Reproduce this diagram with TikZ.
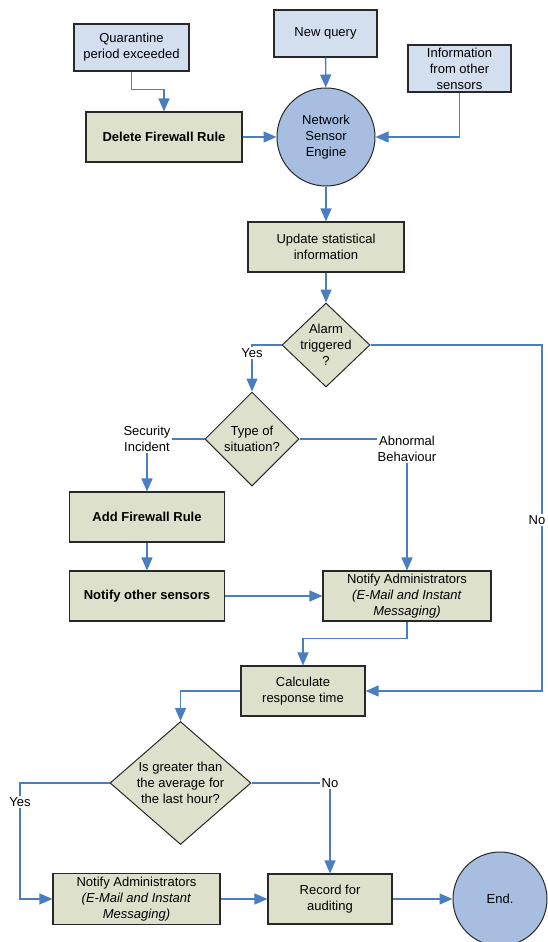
\documentclass[tikz,border=0pt]{standalone}
\usepackage{fontspec}
\setmainfont{Liberation Sans}
\usetikzlibrary{shapes.geometric,arrows.meta}
\definecolor{inblue}{RGB}{211,222,239}
\definecolor{stepgreen}{RGB}{221,224,203}
\definecolor{engblue}{RGB}{167,190,224}
\definecolor{flowblue}{RGB}{74,126,193}
\definecolor{edgegray}{RGB}{40,40,40}

\begin{document}
\begin{tikzpicture}[x=1pt,y=-1pt,
	every node/.style={font=\fontsize{13}{16}\selectfont, align=center},
	inbox/.style={draw=edgegray, line width=1.1pt, fill=inblue, inner sep=0pt},
	stepbox/.style={draw=edgegray, line width=1.1pt, fill=stepgreen, inner sep=0pt},
	decbox/.style={diamond, draw=edgegray, line width=1pt, fill=stepgreen, inner sep=0pt},
	endpt/.style={circle, draw=edgegray, line width=1pt, fill=engblue, inner sep=0pt},
	lbl/.style={inner sep=1pt},
	flow/.style={draw=flowblue, line width=1.3pt},
	flowarr/.style={flow, -{Triangle[length=13pt,width=11pt]}}]
	\useasboundingbox (0,0) rectangle (547,942);

	% Inputs
	\node[inbox, minimum width=115pt, minimum height=47pt] (quar) at (131.5,47.5) {Quarantine\\period exceeded};
	\node[inbox, minimum width=103pt, minimum height=47pt] (newq) at (325.5,33.5) {New query};
	\node[inbox, minimum width=103pt, minimum height=47pt] (info) at (459.5,68.5) {Information\\from other\\sensors};

	% Engine
	\node[stepbox, minimum width=156pt, minimum height=50pt] (delete) at (164,137) {\textbf{Delete Firewall Rule}};
	\node[endpt, minimum size=98pt] (engine) at (326,137) {Network\\Sensor\\Engine};
	\node[stepbox, minimum width=156pt, minimum height=50pt] (update) at (326,247) {Update statistical\\information};

	% Alarm
	\node[decbox, minimum width=88pt, minimum height=84pt] (alarm) at (326,345) {};
	\node (alarmtxt) at (alarm) {Alarm\\triggered\\?};
	\node[lbl] (yes1) at (252,353) {Yes};
	\node[lbl] (no1) at (537,520) {No};

	% Situation
	\node[decbox, minimum width=94pt, minimum height=94pt] (type) at (252,439) {};
	\node (typetxt) at (type) {Type of\\situation?};
	\node[lbl] (secinc) at (147,439) {Security\\Incident};
	\node[lbl] (abn) at (407,449) {Abnormal\\Behaviour};
	\node[stepbox, minimum width=155pt, minimum height=50pt] (add) at (147,517) {\textbf{Add Firewall Rule}};
	\node[stepbox, minimum width=155pt, minimum height=50pt] (nototh) at (147,596) {\textbf{Notify other sensors}};
	\node[stepbox, minimum width=168pt, minimum height=50pt] (notadm1) at (407,596) {Notify Administrators\\\textit{(E-Mail and Instant}\\\textit{Messaging)}};

	% Response time
	\node[stepbox, minimum width=124pt, minimum height=50pt] (calc) at (303,691) {Calculate\\response time};
	\node[decbox, minimum width=141pt, minimum height=123pt] (great) at (180.5,783) {};
	\node (greattxt) at (great) {Is greater than\\the average for\\the last hour?};
	\node[lbl] (yes2) at (20,802) {Yes};
	\node[lbl] (no2) at (330,783) {No};
	\node[stepbox, minimum width=167pt, minimum height=51pt] (notadm2) at (136.5,899) {Notify Administrators\\\textit{(E-Mail and Instant}\\\textit{Messaging)}};
	\node[stepbox, minimum width=124pt, minimum height=50pt] (record) at (330,899) {Record for\\auditing};
	\node[endpt, minimum size=94pt] (endc) at (500,899) {End.};

	% Connectors
	\draw[flowarr] (quar.south) -- ++(0,18) -| (delete.north);
	\draw[flowarr] (newq) -- (engine);
	\draw[flowarr] (info.south) |- (engine.east);
	\draw[flowarr] (delete) -- (engine);
	\draw[flowarr] (engine) -- (update);
	\draw[flowarr] (update) -- (alarm);
	\draw[flow] (alarm.west) -| (yes1.north);
	\draw[flowarr] (yes1) -- (type);
	\draw[flow] (alarm.east) -| ([xshift=5pt]no1.north);
	\draw[flowarr] ([xshift=5pt]no1.south) |- (calc.east);
	\draw[flow] (type.west) -- (secinc.east);
	\draw[flowarr] (secinc) -- (add);
	\draw[flow] (type.east) -- (type.east -| abn.west);
	\draw[flowarr] (abn) -- (notadm1);
	\draw[flowarr] (add) -- (nototh);
	\draw[flowarr] (nototh) -- (notadm1);
	\draw[flowarr] (notadm1.south) -- ++(0,17) -| (calc.north);
	\draw[flowarr] (calc.west) -| (great.north);
	\draw[flow] (great.west) -| (yes2.north);
	\draw[flowarr] (yes2.south) |- (notadm2.west);
	\draw[flow] (great.east) -- (no2.west);
	\draw[flowarr] (no2) -- (record);
	\draw[flowarr] (notadm2) -- (record);
	\draw[flowarr] (record) -- (endc);
\end{tikzpicture}
\end{document}
